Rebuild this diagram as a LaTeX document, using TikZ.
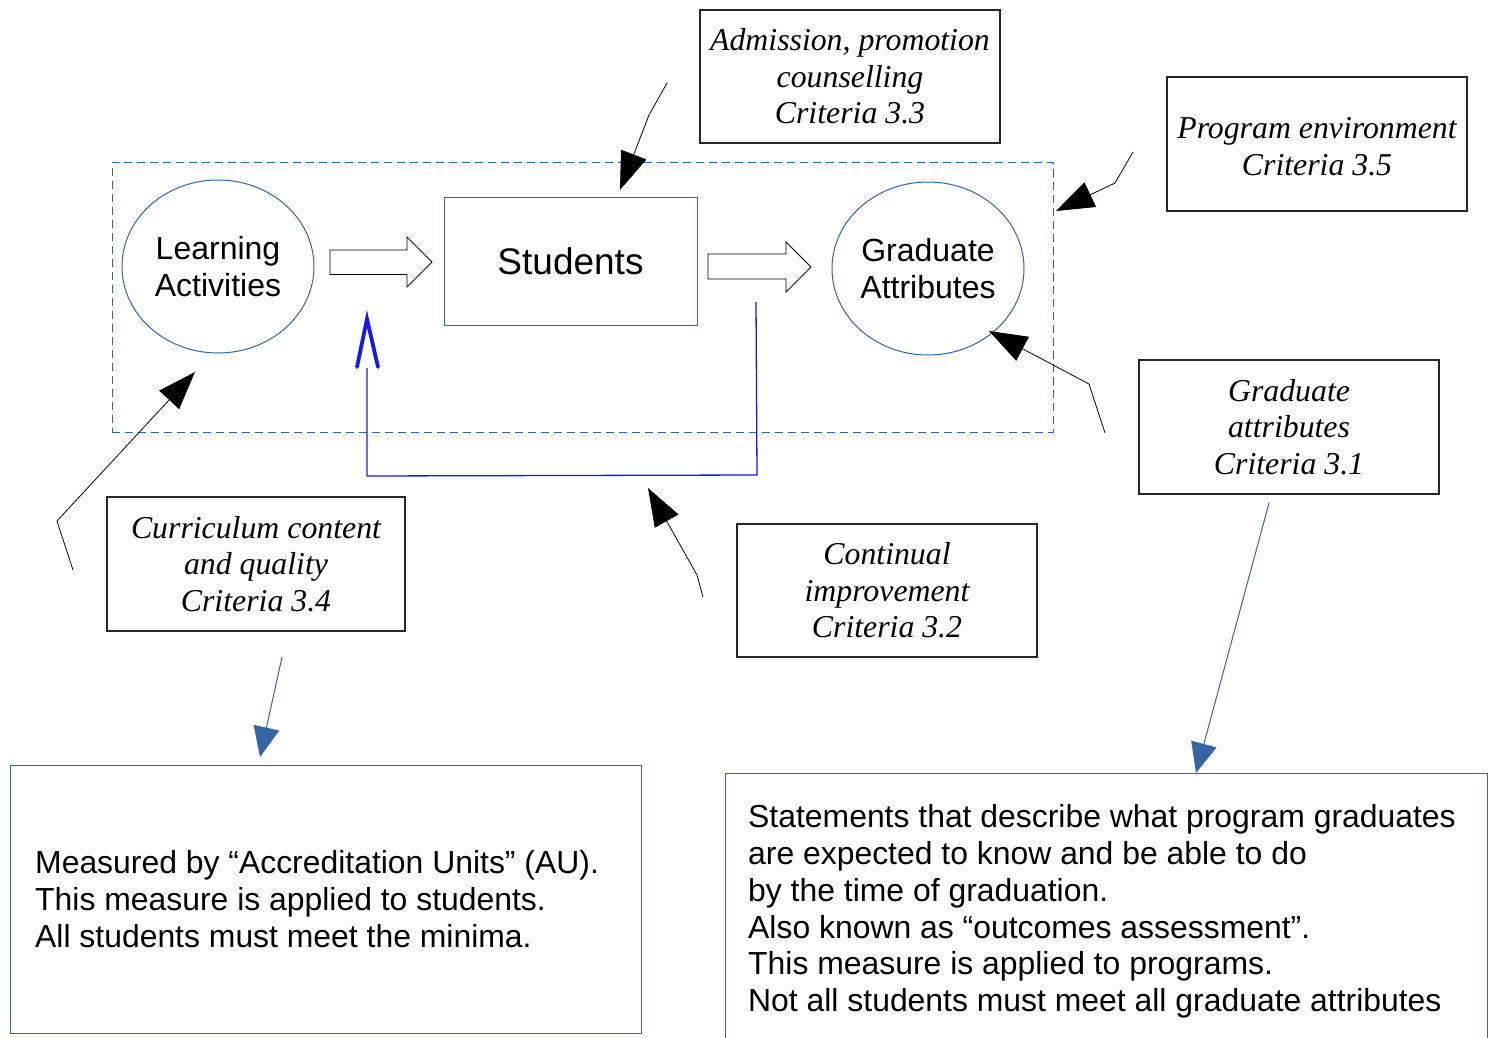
\documentclass[tikz,border=0pt]{standalone}
\usepackage{fontspec}
\setmainfont{Liberation Serif}
\newfontfamily\arialf{Liberation Sans}
\usetikzlibrary{arrows.meta,shapes.geometric}
\definecolor{lblue}{RGB}{52,101,164}
\definecolor{fblue}{RGB}{25,25,235}
\tikzset{
  crit/.style={draw=black!85, line width=1.2pt, inner sep=0pt, align=center,
    font=\itshape\fontsize{31.8}{36.5}\selectfont},
  oval/.style={ellipse, draw=lblue, line width=1pt, inner sep=0pt, align=center,
    minimum width=192pt, minimum height=173pt, font=\arialf\fontsize{32}{37}\selectfont},
  bigtip/.style={-{Triangle[length=38pt,width=27pt]}, line width=0.8pt, black},
  bluetip/.style={-{Triangle[length=30pt,width=26pt]}, line width=1pt, lblue},
  blockarrow/.style={draw=black, line width=0.9pt, fill=white},
  infobox/.style={draw=lblue, line width=1pt, inner sep=0pt},
  infotext/.style={inner sep=0pt, align=left, font=\arialf\fontsize{31.9}{36.8}\selectfont}
}
\begin{document}
\begin{tikzpicture}[x=1pt,y=-1pt]
\useasboundingbox (0,0) rectangle (1491,1038);
\fill[white] (0,0) rectangle (1491,1038);

% system frame
\node[draw=lblue, line width=1pt, dash pattern=on 8pt off 5pt, inner sep=0pt,
  minimum width=941pt, minimum height=270pt] (sys) at (582.5,297) {};

% main nodes
\node[oval] (learn) at (218,266.5) {Learning\\Activities};
\node[draw=lblue, line width=1pt, inner sep=0pt, minimum width=253pt, minimum height=128pt,
  font=\arialf\fontsize{37}{42}\selectfont] (stud) at (570.5,261) {Students};
\node[oval] (grad) at (928,268.5) {Graduate\\Attributes};

% block arrows
\draw[blockarrow] (330,250) -- (407,250) -- (407,237) -- (432,262) -- (407,287) -- (407,274.5) -- (330,274.5) -- cycle;
\draw[blockarrow] (708,254) -- (786,254) -- (786,242) -- (811,267) -- (786,292) -- (786,279) -- (708,279) -- cycle;

% criteria boxes
\node[crit, minimum width=300pt, minimum height=133pt] (adm) at (850,76.5) {Admission, promotion\\counselling\\Criteria 3.3};
\node[crit, minimum width=300pt, minimum height=134pt] (env) at (1317,144) {};
\node[inner sep=0pt, align=center, font=\itshape\fontsize{31.8}{36.5}\selectfont] (envtext) at (1317,146.5) {Program environment\\Criteria 3.5};
\node[crit, minimum width=300pt, minimum height=134pt] (ga) at (1289,427) {Graduate\\attributes\\Criteria 3.1};
\node[crit, minimum width=298pt, minimum height=134pt] (cur) at (256,564) {Curriculum content\\and quality\\Criteria 3.4};
\node[crit, minimum width=300pt, minimum height=133pt] (cont) at (887,590.5) {Continual\\improvement\\Criteria 3.2};

% bottom boxes
\node[infobox, minimum width=631pt, minimum height=268pt] (au) at (325.5,899) {};
\node[infotext, anchor=west] (autext) at (35,899) {Measured by “Accreditation Units” (AU).\\This measure is applied to students.\\All students must meet the minima.};
\coordinate (gabl) at (725,1040);
\coordinate (gatl) at (725,773);
\coordinate (gatr) at (1487,773);
\coordinate (gabr) at (1487,1040);
\draw[lblue, line width=1pt] (gabl) -- (gatl) -- (gatr) -- (gabr);
\node[infotext, anchor=west] (gatext) at (748,911.5) {Statements that describe what program graduates\\are expected to know and be able to do\\by the time of graduation.\\Also known as “outcomes assessment”.\\This measure is applied to programs.\\Not all students must meet all graduate attributes};

% black pointer arrows
\coordinate (l1) at (73,570); \coordinate (l2) at (57,521); \coordinate (l3) at (195,372);
\draw[bigtip] (l1) -- (l2) -- (l3);
\coordinate (a1) at (667,83); \coordinate (a2) at (649,115); \coordinate (a3) at (620,190);
\draw[bigtip] (a1) -- (a2) -- (a3);
\coordinate (p1) at (1133,152); \coordinate (p2) at (1115,183); \coordinate (p3) at (1056,211);
\draw[bigtip] (p1) -- (p2) -- (p3);
\coordinate (g1) at (1105,433); \coordinate (g2) at (1089,384); \coordinate (g3) at (989,331);
\draw[bigtip] (g1) -- (g2) -- (g3);
\coordinate (c1) at (703,597); \coordinate (c2) at (697,575); \coordinate (c3) at (648,488);
\draw[bigtip] (c1) -- (c2) -- (c3);

% blue arrows to bottom boxes
\coordinate (cb1) at (282,657); \coordinate (cb2) at (260,757);
\draw[bluetip] (cb1) -- (cb2);
\coordinate (gb1) at (1269,503); \coordinate (gb2) at (1196,773);
\draw[bluetip] (gb1) -- (gb2);

% feedback loop
\coordinate (f1) at (756,302); \coordinate (f2) at (757,475);
\coordinate (f3) at (367,476); \coordinate (f4) at (367,368);
\draw[fblue, line width=1.3pt] (f1) -- (f2) -- (f3) -- (f4);
\coordinate (ftip) at (367,319);
\draw[fblue, line width=3.8pt, line cap=round, line join=miter] (357,367) -- (ftip) -- (378,367);
\end{tikzpicture}
\end{document}
